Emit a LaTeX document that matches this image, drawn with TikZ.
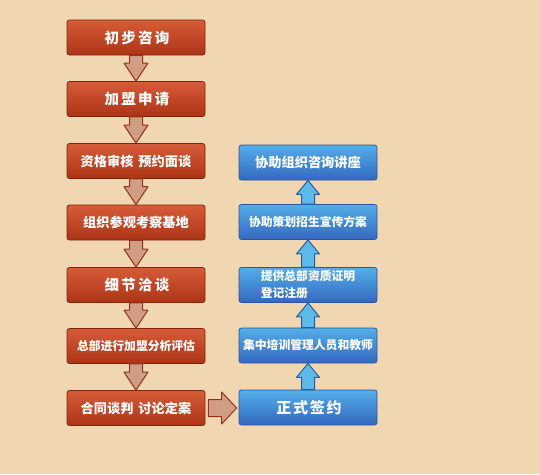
\documentclass[tikz,border=0pt]{standalone}
\usepackage{fontspec}
\newfontfamily\cjk{Noto Sans CJK SC}
\newfontfamily\cjkwide[LetterSpace=15]{Noto Sans CJK SC}
\usetikzlibrary{calc}

\definecolor{paper}{RGB}{240,215,178}
\definecolor{redtop}{RGB}{214,92,56}
\definecolor{redbot}{RGB}{172,52,22}
\definecolor{redline}{RGB}{130,36,12}
\definecolor{pinkfill}{RGB}{208,158,132}
\definecolor{pinkline}{RGB}{150,52,24}
\definecolor{bluetop}{RGB}{84,174,232}
\definecolor{bluebot}{RGB}{52,104,192}
\definecolor{blueline}{RGB}{44,86,156}
\definecolor{skyfill}{RGB}{92,186,232}
\definecolor{skyline}{RGB}{40,92,162}

\tikzset{
	redbox/.style={draw=redline, line width=0.8pt, rounded corners=2.5pt,
		top color=redtop, bottom color=redbot, minimum width=138pt, minimum height=35pt,
		inner sep=0pt, text=white, font=\cjk\bfseries\fontsize{13.2}{15}\selectfont},
	widered/.style={redbox, font=\cjkwide\bfseries\fontsize{14.5}{17}\selectfont, xshift=0pt},
	bluebox/.style={draw=blueline, line width=0.8pt, rounded corners=2.5pt,
		top color=bluetop, bottom color=bluebot, minimum width=138pt, minimum height=35pt,
		inner sep=0pt, text=white, font=\cjk\bfseries\fontsize{11.8}{17}\selectfont},
	downarrow/.style={draw=pinkline, fill=pinkfill, line width=1pt, line join=round},
	uparrow/.style={draw=skyline, fill=skyfill, line width=1pt, line join=round},
}

\newcommand{\downarr}[2]{%
	\draw[downarrow] let \p1=(#1.south), \p2=(#2.north) in
	(\x1-6.5pt,\y1) -- (\x1-6.5pt,\y2+18pt) -- (\x1-12pt,\y2+18pt) -- (\x1,\y2)
	-- (\x1+12pt,\y2+18pt) -- (\x1+6.5pt,\y2+18pt) -- (\x1+6.5pt,\y1) -- cycle;}
\newcommand{\uparr}[2]{%
	\draw[uparrow] let \p1=(#1.north), \p2=(#2.south) in
	(\x1-6.5pt,\y1) -- (\x1-6.5pt,\y2-14pt) -- (\x1-11.5pt,\y2-14pt) -- (\x1,\y2)
	-- (\x1+11.5pt,\y2-14pt) -- (\x1+6.5pt,\y2-14pt) -- (\x1+6.5pt,\y1) -- cycle;}

\begin{document}
\begin{tikzpicture}[x=1pt,y=-1pt]
	
	\fill[paper] (0,0) rectangle (540,474);
	\useasboundingbox (0,0) rectangle (540,474);
	
	% left column
	\node[widered] (zixun) at (136,37.5) {\hspace{2pt}初步咨询};
	\node[widered] (shenqing) at (136,99) {\hspace{2pt}加盟申请};
	\node[redbox] (shenhe) at (136,161) {资格审核\hspace{5pt}预约面谈};
	\node[redbox] (kaocha) at (136,222.5) {组织参观考察基地};
	\node[widered] (qiatan) at (136,285) {\hspace{2pt}细节洽谈};
	\node[redbox, font=\cjk\bfseries\fontsize{11.8}{14}\selectfont] (pinggu) at (136,346) {总部进行加盟分析评估};
	\node[redbox] (hetong) at (136,408) {合同谈判\hspace{5pt}讨论定案};
	
	% right column
	\node[bluebox, font=\cjk\bfseries\fontsize{13.2}{16}\selectfont] (jiangzuo) at (308,162.5) {协助组织咨询讲座};
	\node[bluebox] (fangan) at (308,222) {协助策划招生宣传方案};
	\node[bluebox, align=left] (zhengming) at (308,285) {提供总部资质证明\\登记注册};
	\node[bluebox] (peixun) at (308,345.5) {集中培训管理人员和教师};
	\node[bluebox, font=\cjk\bfseries\fontsize{15}{18}\selectfont] (qianyue) at (308,407.5) {\hspace{2pt}\addfontfeature{LetterSpace=12}正式签约};
	
	\downarr{zixun}{shenqing}
	\downarr{shenqing}{shenhe}
	\downarr{shenhe}{kaocha}
	\downarr{kaocha}{qiatan}
	\downarr{qiatan}{pinggu}
	\downarr{pinggu}{hetong}
	
	\uparr{qianyue}{peixun}
	\uparr{peixun}{zhengming}
	\uparr{zhengming}{fangan}
	\uparr{fangan}{jiangzuo}
	
	\draw[downarrow] let \p1=(hetong.east), \p2=(qianyue.west) in
	(\x1+3pt,\y1+8.5pt) -- (\x2-17pt,\y1+8.5pt) -- (\x2-17pt,\y1+16pt) -- (\x2-2pt,\y1)
	-- (\x2-17pt,\y1-16pt) -- (\x2-17pt,\y1-8.5pt) -- (\x1+3pt,\y1-8.5pt) -- cycle;
	
\end{tikzpicture}
\end{document}
